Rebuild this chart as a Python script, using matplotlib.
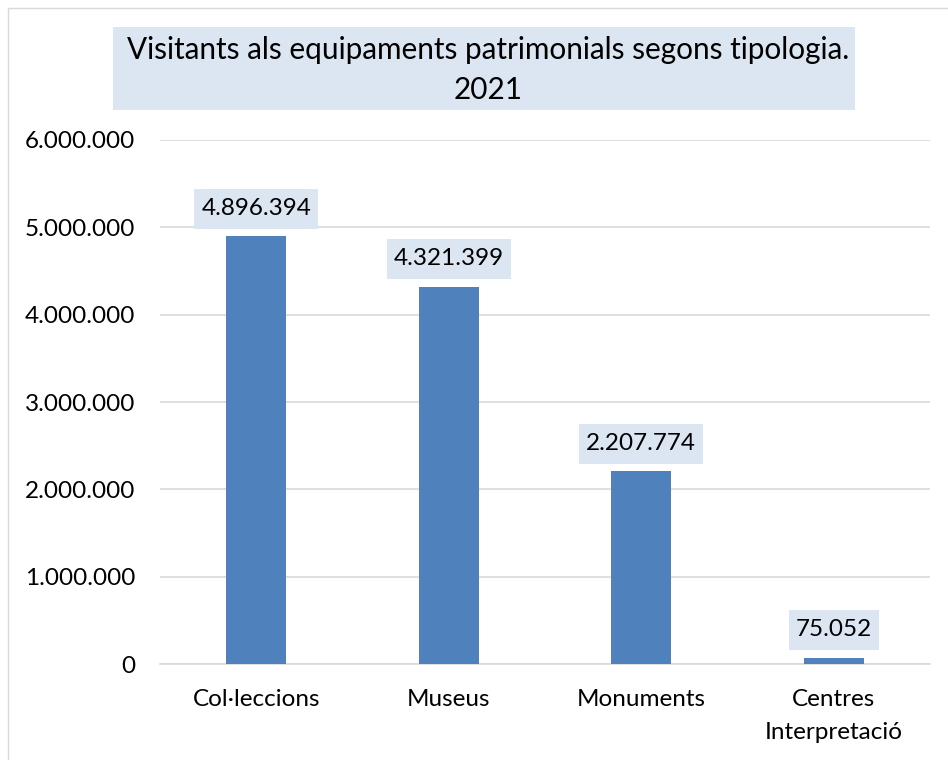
import matplotlib
matplotlib.use("Agg")
import matplotlib.pyplot as plt
from matplotlib.patches import Rectangle
from matplotlib.transforms import IdentityTransform
from matplotlib.ticker import FuncFormatter

# Data
categories = ["Col·leccions", "Museus", "Monuments", "Centres\nInterpretació"]
visitants = [4896394, 4321399, 2207774, 75052]
y_ticks = [0, 1000000, 2000000, 3000000, 4000000, 5000000, 6000000]
title = "Visitants als equipaments patrimonials segons tipologia.\n2021"

bar_color = "#4F81BD"
box_color = "#DCE6F2"

plt.rcParams['font.family'] = ['Lato', 'DejaVu Sans']


def fmt_num(v):
    return f"{int(v):,}".replace(",", ".")


fig = plt.figure(figsize=(9.48, 7.6), dpi=100)
ax = fig.add_axes([160 / 948, 0.126, 770 / 948, 0.69])

x = range(len(categories))
ax.bar(x, visitants, width=0.31, color=bar_color, zorder=3)

ax.set_ylim(0, 6000000)
ax.set_xlim(-0.5, len(categories) - 0.5)
ax.set_yticks(y_ticks)
ax.yaxis.set_major_formatter(FuncFormatter(lambda v, p: fmt_num(v)))
ax.set_xticks(list(x))
ax.set_xticklabels(categories, fontsize=17.5, linespacing=1.7)
ax.tick_params(axis='y', labelsize=17.5, length=0, pad=18)
ax.tick_params(axis='x', length=0, pad=18)
ax.grid(axis='y', color='#D9D9D9', linewidth=1.2, zorder=0)
for side in ['top', 'right', 'left']:
    ax.spines[side].set_visible(False)
ax.spines['bottom'].set_color('#D9D9D9')
ax.spines['bottom'].set_linewidth(1.2)

# value labels; box drawn in pixels behind each label (taller than wide pad)
labels = []
for xi, v in zip(x, visitants):
    t = ax.annotate(fmt_num(v), (xi, v), xytext=(0, 20), textcoords='offset points',
                    ha='center', va='center', fontsize=17.5, zorder=5)
    labels.append(t)

fig.canvas.draw()
renderer = fig.canvas.get_renderer()
for t in labels:
    bb = t.get_window_extent(renderer)
    cx = (bb.x0 + bb.x1) / 2
    cy = (bb.y0 + bb.y1) / 2
    w = bb.width + 14
    h = 40
    ax.add_patch(Rectangle((cx - w / 2, cy - h / 2), w, h, transform=IdentityTransform(),
                           facecolor=box_color, edgecolor='none', zorder=4, clip_on=False))

# title box
fig.patches.append(Rectangle((0.119, 0.855), 0.783, 0.109, transform=fig.transFigure,
                             facecolor=box_color, edgecolor='none'))
fig.text(0.515, 0.908, title, ha='center', va='center', fontsize=21.4, linespacing=1.5)

# outer chart border
fig.patches.append(Rectangle((8 / 948, -0.1), 1.2, 1.1 - 8 / 760, transform=fig.transFigure,
                             facecolor='none', edgecolor='#D9D9D9', linewidth=1))

fig.savefig("out.png", dpi=100)
